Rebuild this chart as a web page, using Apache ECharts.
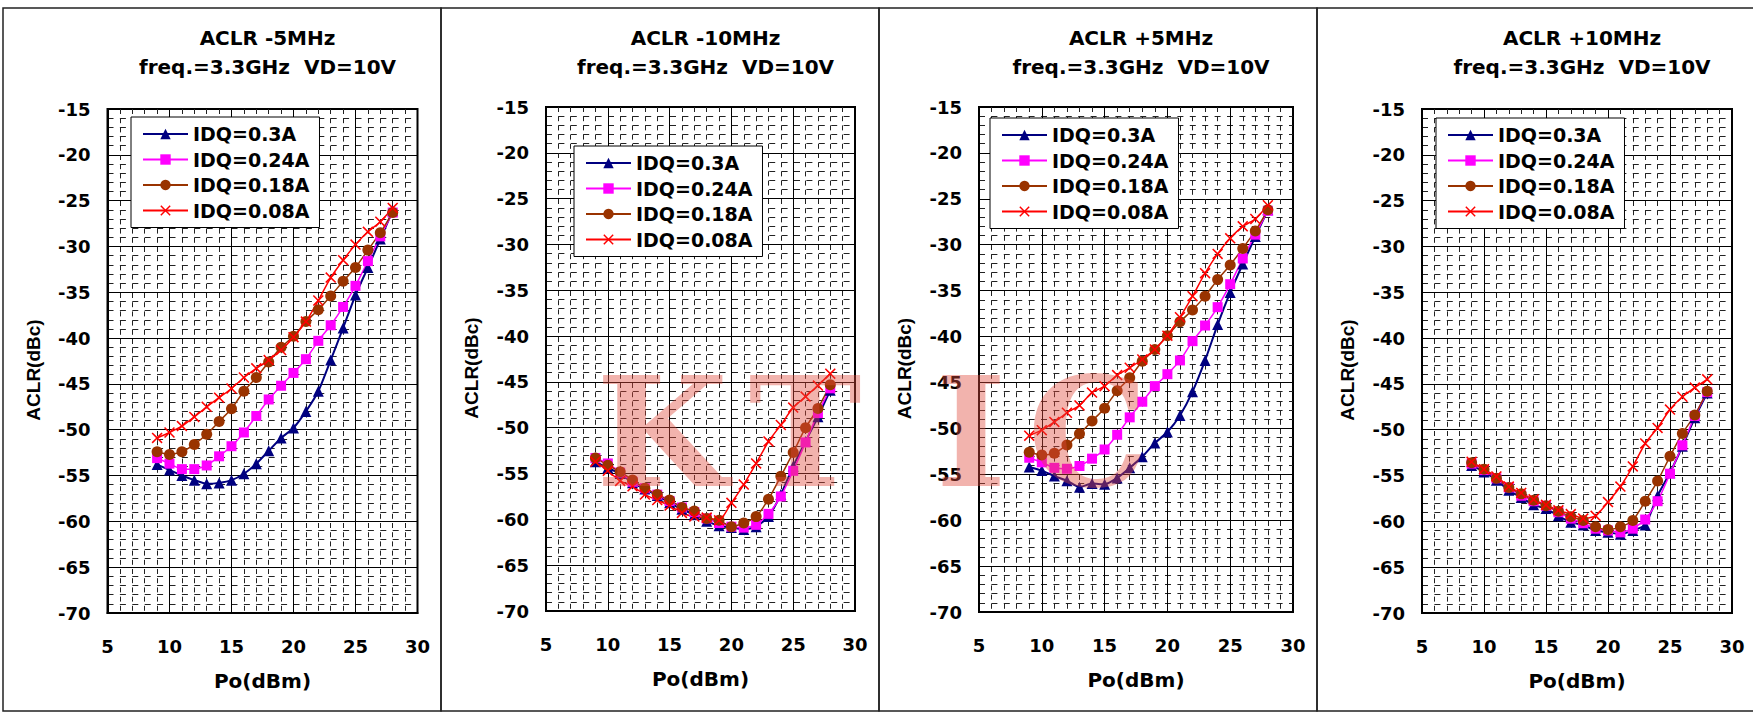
<!DOCTYPE html>
<html>
<head>
<meta charset="utf-8">
<script src="https://cdn.jsdelivr.net/npm/echarts@6/dist/echarts.min.js"></script>
<style>
html,body{margin:0;padding:0;background:#fff;}
#chart{width:1753px;height:716px;}
</style>
</head>
<body>
<div id="chart"></div>
<script>
// ---------- data ----------
const xValues = [9,10,11,12,13,14,15,16,17,18,19,20,21,22,23,24,25,26,27,28];
const seriesNames = ['IDQ=0.3A','IDQ=0.24A','IDQ=0.18A','IDQ=0.08A'];
const panelTitles = ['ACLR -5MHz','ACLR -10MHz','ACLR +5MHz','ACLR +10MHz'];
const subTitle = 'freq.=3.3GHz  VD=10V';
const xTicks = [5,10,15,20,25,30];
const yTicks = [-70,-65,-60,-55,-50,-45,-40,-35,-30,-25,-20,-15];

// ACLR -5MHz
const m5_030 = [-53.8,-54.4,-55.0,-55.5,-55.9,-55.8,-55.5,-54.8,-53.7,-52.3,-50.9,-49.8,-48.0,-45.8,-42.4,-38.9,-35.3,-32.3,-29.2,-26.1];
const m5_024 = [-53.1,-53.7,-54.3,-54.3,-53.9,-52.9,-51.8,-50.3,-48.5,-46.7,-45.2,-43.8,-42.3,-40.3,-38.6,-36.6,-34.3,-31.6,-28.9,-26.3];
const m5_018 = [-52.4,-52.7,-52.4,-51.6,-50.5,-49.1,-47.7,-45.8,-44.3,-42.6,-41.0,-39.8,-38.2,-36.9,-35.4,-33.8,-32.3,-30.4,-28.5,-26.3];
const m5_008 = [-50.9,-50.3,-49.6,-48.6,-47.5,-46.5,-45.5,-44.3,-43.3,-42.4,-41.3,-39.9,-38.2,-35.9,-33.4,-31.5,-29.8,-28.4,-27.3,-25.8];
// ACLR -10MHz
const m10_030 = [-53.7,-54.4,-55.0,-56.0,-56.7,-57.4,-58.2,-58.9,-59.5,-60.2,-60.7,-60.9,-61.1,-60.8,-59.7,-57.3,-54.2,-51.5,-48.8,-45.9];
const m10_024 = [-53.3,-53.9,-54.9,-55.9,-56.6,-57.3,-58.0,-58.7,-59.2,-59.9,-60.4,-60.8,-60.9,-60.6,-59.4,-57.5,-54.7,-51.6,-48.4,-45.7];
const m10_018 = [-53.3,-54.1,-54.8,-55.7,-56.6,-57.3,-57.9,-58.7,-59.1,-59.9,-60.1,-60.8,-60.4,-59.7,-57.8,-55.3,-52.7,-50.0,-47.9,-45.3];
const m10_008 = [-53.7,-54.7,-55.8,-56.4,-57.3,-57.9,-58.5,-59.3,-59.7,-59.8,-60.1,-58.2,-56.2,-53.9,-51.5,-49.7,-47.8,-46.6,-45.4,-44.1];
// ACLR +5MHz
const p5_030 = [-54.2,-54.6,-55.2,-55.7,-56.4,-56.0,-56.1,-55.4,-54.3,-53.1,-51.6,-50.4,-48.6,-46.0,-42.6,-38.7,-35.2,-32.1,-29.1,-26.2];
const p5_024 = [-53.2,-53.7,-54.3,-54.4,-54.1,-53.3,-52.3,-50.7,-48.8,-47.1,-45.4,-44.1,-42.6,-40.5,-38.8,-36.8,-34.3,-31.5,-28.9,-26.3];
const p5_018 = [-52.6,-52.9,-52.7,-51.8,-50.6,-49.2,-47.8,-45.9,-44.5,-42.7,-41.4,-39.9,-38.4,-37.1,-35.6,-33.8,-32.2,-30.4,-28.5,-26.2];
const p5_008 = [-50.8,-50.2,-49.3,-48.3,-47.5,-46.1,-45.4,-44.2,-43.4,-42.5,-41.4,-39.9,-37.9,-35.6,-33.1,-31.0,-29.3,-28.0,-27.2,-25.7];
// ACLR +10MHz
const p10_030 = [-53.9,-54.6,-55.5,-56.6,-57.4,-58.2,-58.6,-59.4,-60.1,-60.4,-61.0,-61.2,-61.4,-61.0,-60.4,-57.2,-54.7,-51.8,-48.7,-46.0];
const p10_024 = [-53.7,-54.4,-55.3,-56.3,-57.2,-57.8,-58.3,-59.0,-59.7,-60.2,-60.8,-61.0,-61.2,-60.8,-59.8,-57.8,-54.8,-51.7,-48.5,-45.9];
const p10_018 = [-53.6,-54.3,-55.3,-56.3,-57.0,-57.7,-58.3,-58.9,-59.5,-59.9,-60.6,-60.9,-60.6,-59.9,-57.8,-55.6,-52.9,-50.4,-48.4,-45.8];
const p10_008 = [-53.5,-54.3,-55.1,-56.2,-56.9,-57.6,-58.2,-58.8,-59.2,-59.7,-59.4,-57.9,-56.2,-54.0,-51.5,-49.8,-47.8,-46.4,-45.4,-44.5];

const panelData = [
  [m5_030, m5_024, m5_018, m5_008],
  [m10_030, m10_024, m10_018, m10_008],
  [p5_030, p5_024, p5_018, p5_008],
  [p10_030, p10_024, p10_018, p10_008]
];

// ---------- layout / style ----------
const FONT = 'DejaVu Sans';
const grids = [
  {left:107.5, top:109, width:310, height:504},
  {left:546,   top:107, width:309, height:504},
  {left:979,   top:107, width:314, height:505},
  {left:1422,  top:109, width:310, height:504}
];
const legendPos = [
  {left:131, top:117},
  {left:574, top:146},
  {left:990, top:118},
  {left:1436, top:118}
];
const panelFrames = [
  {x:3, w:438}, {x:441, w:438}, {x:879, w:438}, {x:1317, w:440}
];
const crossPath = 'path://M0,1 L1,0 L5,4 L9,0 L10,1 L6,5 L10,9 L9,10 L5,6 L1,10 L0,9 L4,5 Z';
const styles = [
  {color:'#000080', symbol:'triangle', size:11, width:2},
  {color:'#FF00FF', symbol:'rect', size:10, width:1.5},
  {color:'#993300', symbol:'circle', size:11, width:1.5},
  {color:'#FF0000', symbol:crossPath, size:11, width:1.5}
];

const option = {
  backgroundColor:'#fff',
  animation:false,
  grid: grids.map(g => Object.assign({show:true, backgroundColor:'#fff', borderColor:'#000', borderWidth:2, containLabel:false}, g)),
  xAxis: grids.map((g,i) => ({
    type:'value', gridIndex:i, min:xTicks[0], max:xTicks[xTicks.length-1], interval:5,
    axisLine:{show:true, onZero:false, lineStyle:{color:'#000', width:2}},
    axisTick:{show:false},
    minorTick:{show:false, splitNumber:5},
    minorSplitLine:{show:true, lineStyle:{color:'#222', width:1, type:[5,4.2]}},
    splitLine:{show:true, lineStyle:{color:'#000', width:1}},
    axisLabel:{color:'#000', fontFamily:FONT, fontWeight:'bold', fontSize:18, margin:24},
    name:'Po(dBm)', nameLocation:'middle', nameGap:58,
    nameTextStyle:{color:'#000', fontFamily:FONT, fontWeight:'bold', fontSize:20}
  })),
  yAxis: grids.map((g,i) => ({
    type:'value', gridIndex:i, min:yTicks[0], max:yTicks[yTicks.length-1], interval:5,
    axisLine:{show:true, onZero:false, lineStyle:{color:'#000', width:2}},
    axisTick:{show:false},
    minorTick:{show:false, splitNumber:5},
    minorSplitLine:{show:true, lineStyle:{color:'#222', width:1, type:[6,6.4]}},
    splitLine:{show:true, lineStyle:{color:'#000', width:1}},
    axisLabel:{color:'#000', fontFamily:FONT, fontWeight:'bold', fontSize:18, margin:17},
    name:'ACLR(dBc)', nameLocation:'middle', nameGap:65, nameRotate:90,
    nameTextStyle:{color:'#000', fontFamily:'Liberation Sans', fontWeight:'bold', fontSize:19, padding:[0,18,0,0]}
  })),
  legend: legendPos.map(p => ({
    left:p.left, top:p.top, orient:'vertical', data:seriesNames,
    itemWidth:45, itemHeight:13, itemGap:5.5,
    backgroundColor:'#fff', borderColor:'#000', borderWidth:1, padding:[7,10,7,11],
    textStyle:{color:'#000', fontFamily:FONT, fontWeight:'bold', fontSize:19, lineHeight:20},
    selectedMode:false
  })),
  series: [],
  graphic: []
};

panelData.forEach((arrs, pi) => {
  arrs.forEach((vals, si) => {
    const st = styles[si];
    option.series.push({
      type:'line', name:seriesNames[si], xAxisIndex:pi, yAxisIndex:pi,
      data: xValues.map((x,k) => [x, vals[k]]),
      symbol:st.symbol, symbolSize:st.size, showSymbol:true, smooth:0.2,
      lineStyle:{color:st.color, width:st.width},
      itemStyle:{color:st.color, borderColor:st.color, borderWidth:0},
      emphasis:{disabled:true}
    });
  });
});

// panel frames & titles
panelFrames.forEach((f, i) => {
  option.graphic.push({type:'rect', shape:{x:f.x, y:8, width:f.w, height:703}, style:{fill:'none', stroke:'#222', lineWidth:1.5}, silent:true});
  const cx = grids[i].left + grids[i].width/2 + 5;
  option.graphic.push({type:'text', x:cx, y:38, style:{text:panelTitles[i], font:'bold 20px "DejaVu Sans"', fill:'#000', align:'center', verticalAlign:'middle'}});
  option.graphic.push({type:'text', x:cx, y:67, style:{text:subTitle, font:'bold 20px "DejaVu Sans"', fill:'#000', align:'center', verticalAlign:'middle'}});
});

// watermark
const wmLetters = [['K',662],['T',805],['I',971],['C',1088]];
wmLetters.forEach(([ch, x]) => {
  option.graphic.push({type:'text', x:x, y:432, z:100, silent:true,
    style:{text:ch, font:'bold 152px "DejaVu Serif"', fill:'rgba(225,75,60,0.42)',
      align:'center', verticalAlign:'middle'}});
});

const chart = echarts.init(document.getElementById('chart'), null, {renderer:'svg', width:1753, height:716});
chart.setOption(option);
</script>
</body>
</html>
